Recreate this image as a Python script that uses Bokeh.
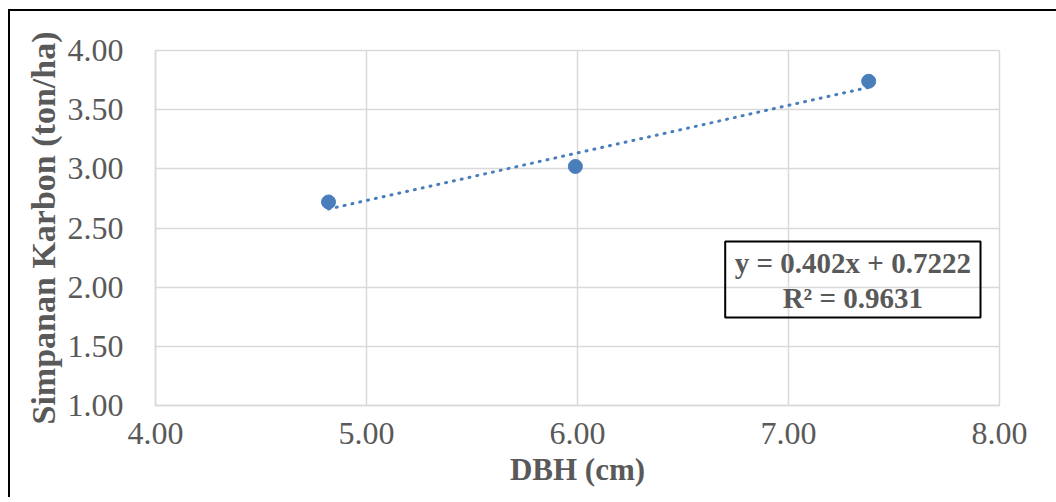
from bokeh.plotting import figure
from bokeh.models import (ColumnDataSource, FixedTicker, NumeralTickFormatter,
                          Range1d, Label, BoxAnnotation)
from bokeh.embed import file_html
from bokeh.resources import INLINE

# ---- data ----
dbh = [4.82, 5.99, 7.38]
carbon = [2.72, 3.02, 3.74]
slope = 0.402
intercept = 0.7222
eq_text = "y = 0.402x + 0.7222"
r2_text = "R² = 0.9631"
x_ticks = [4, 5, 6, 7, 8]
y_ticks = [1.0, 1.5, 2.0, 2.5, 3.0, 3.5, 4.0]
x_title = "DBH (cm)"
y_title = "Simpanan Karbon (ton/ha)"

FONT = "Liberation Serif"
GRAY = "#595959"
GRID = "#d9d9d9"
BLUE = "#4A7EBB"

p = figure(width=1046, height=486, output_backend="svg", toolbar_location=None,
           x_range=Range1d(4, 8), y_range=Range1d(1, 4),
           frame_width=844, frame_height=355,
           min_border_left=145, min_border_top=39, min_border_right=57,
           min_border_bottom=92)
p.styles = {"margin-left": "8px", "margin-top": "9px",
            "border-left": "2px solid black", "border-top": "2px solid black"}
p.background_fill_color = "white"
p.border_fill_color = "white"
p.outline_line_color = GRID
p.outline_line_width = 1.5

for ax, ticks in ((p.xaxis[0], x_ticks), (p.yaxis[0], y_ticks)):
    ax.ticker = FixedTicker(ticks=ticks)
    ax.formatter = NumeralTickFormatter(format="0.00")
    ax.major_tick_line_color = None
    ax.minor_tick_line_color = None
    ax.axis_line_color = GRID
    ax.axis_line_width = 1.5
    ax.major_label_text_font = FONT
    ax.major_label_text_font_size = "32px"
    ax.major_label_text_color = GRAY
    ax.axis_label_text_font = FONT
    ax.axis_label_text_font_style = "bold"
    ax.axis_label_text_color = GRAY

p.xaxis.axis_label = x_title
p.yaxis.axis_label = y_title
p.xaxis.axis_label_text_font_size = "31px"
p.yaxis.axis_label_text_font_size = "34px"
p.xaxis.major_label_standoff = 11
p.xaxis.axis_label_standoff = 5
p.yaxis.major_label_standoff = 26
p.yaxis.axis_label_standoff = 3

for g in (p.xgrid[0], p.ygrid[0]):
    g.grid_line_color = GRID
    g.grid_line_width = 1.5
p.xgrid.ticker = FixedTicker(ticks=x_ticks)
p.ygrid.ticker = FixedTicker(ticks=y_ticks)

# trendline
tx = [min(dbh), max(dbh)]
ty = [slope * v + intercept for v in tx]
p.line(tx, ty, line_color=BLUE, line_width=3, line_dash="1 7", line_cap="round")

src = ColumnDataSource(dict(x=dbh, y=carbon))
p.scatter("x", "y", source=src, size=14, fill_color=BLUE, line_color=BLUE)

# equation box
box = BoxAnnotation(left=6.70, right=7.91, top=2.386, bottom=1.744,
                    fill_alpha=0, line_color="black", line_alpha=1.0, line_width=2)
p.add_layout(box)
for txt, yy in ((eq_text, 2.205), (r2_text, 1.912)):
    p.add_layout(Label(x=7.305, y=yy, text=txt, text_align="center",
                       text_baseline="middle", text_font=FONT,
                       text_font_size="29px", text_font_style="bold",
                       text_color=GRAY))

open("out.html", "w").write(file_html(p, INLINE))
